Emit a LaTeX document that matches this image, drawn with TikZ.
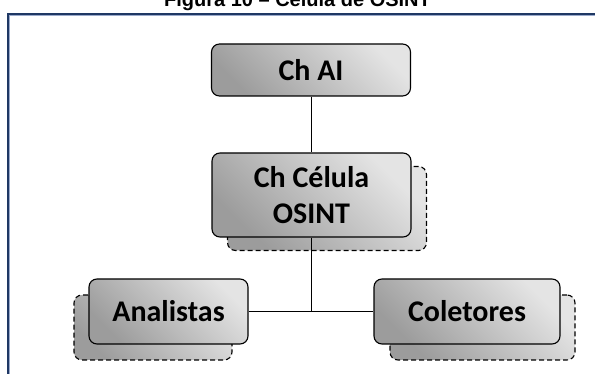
\documentclass[tikz,border=0pt]{standalone}
\usepackage{fontspec}
\setmainfont{Carlito}
\newfontfamily\captionfont{Liberation Sans}
\definecolor{framedark}{HTML}{1F3864}
\definecolor{framelight}{HTML}{9AAACB}
\definecolor{boxlight}{HTML}{E4E4E4}
\definecolor{boxdark}{HTML}{9C9C9C}
\begin{document}
\begin{tikzpicture}[x=1pt,y=-1pt,
  unitbox/.style={draw=black, line width=1.1pt, rounded corners=8pt,
    top color=boxlight, bottom color=boxdark, shading angle=-45,
    inner sep=0pt, align=center, text=black,
    font=\fontsize{30}{36}\selectfont\bfseries},
  ghostbox/.style={unitbox, dash pattern=on 5pt off 3pt},
  link/.style={draw=black, line width=0.9pt}]
\clip (0,0) rectangle (595,374);

% caption (partly cut at the top edge)
\node[anchor=base, inner sep=0pt, font=\captionfont\bfseries\fontsize{20}{24}\selectfont]
  (caption) at (297.5,6.5) {Figura 10 – Célula de OSINT};

% frame
\draw[framelight, line width=0.8pt] (9.6,374) -- (9.6,15.6) -- (595,15.6);
\draw[framedark, line width=1.3pt] (8,374) -- (8,14) -- (595,14);

% stacked shadows behind the units
\node[ghostbox, minimum width=199pt, minimum height=84pt] (celShadow) at (327,208.5) {};
\node[ghostbox, minimum width=158pt, minimum height=65pt] (anaShadow) at (153,327.5) {};
\node[ghostbox, minimum width=185pt, minimum height=65pt] (colShadow) at (482.5,327.5) {};

% units
\node[unitbox, minimum width=199pt, minimum height=52pt] (ai) at (311,70) {Ch AI};
\node[unitbox, minimum width=199pt, minimum height=84pt] (cel) at (311.5,195) {Ch Célula\\OSINT};
\node[unitbox, minimum width=159pt, minimum height=65pt] (ana) at (168.5,311.5) {Analistas};
\node[unitbox, minimum width=186pt, minimum height=65pt] (col) at (467,311.5) {Coletores};

% links
\coordinate (hub) at (ai.south |- ana.east);
\draw[link] (ai.south) -- (ai.south |- cel.north);
\draw[link] (ai.south |- cel.south) -- (hub);
\draw[link] (ana.east) -- (col.west);
\end{tikzpicture}
\end{document}
